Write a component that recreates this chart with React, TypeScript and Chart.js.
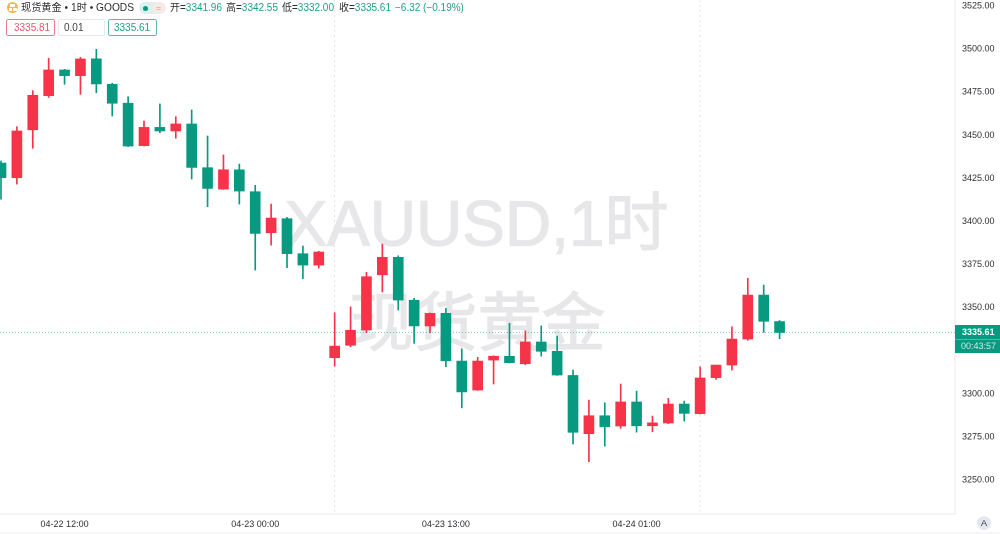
import React, { useEffect, useRef } from "react";
import { Chart, registerables } from "chart.js";

Chart.register(...registerables);

const openPrices = [3433.9,3425.4,3453.2,3473.0,3487.9,3484.6,3494.4,3479.6,3468.6,3444.0,3454.6,3452.5,3456.6,3431.2,3418.8,3430.0,3417.3,3393.5,3401.6,3381.3,3374.7,3321.0,3328.2,3337.0,3369.1,3379.2,3354.3,3339.4,3346.7,3319.0,3302.2,3319.6,3321.8,3317.5,3330.1,3324.7,3310.7,3276.9,3287.3,3281.3,3295.3,3281.5,3283.1,3294.1,3288.5,3309.4,3316.7,3331.8,3357.3,3341.96];
const highPrices = [3435.1,3455.0,3475.9,3494.7,3488.3,3495.2,3499.9,3480.2,3472.4,3458.3,3468.2,3460.8,3464.7,3449.6,3438.6,3433.3,3421.0,3410.1,3402.4,3385.8,3382.7,3347.1,3350.5,3370.5,3386.9,3380.1,3355.4,3346.9,3349.6,3326.2,3321.2,3322.1,3340.9,3336.6,3339.4,3333.5,3313.8,3296.4,3294.8,3305.7,3301.6,3287.1,3297.4,3295.8,3315.7,3316.7,3338.9,3367.0,3363.1,3342.55];
const lowPrices = [3412.9,3421.7,3442.5,3472.0,3479.6,3473.8,3474.7,3461.2,3443.4,3443.8,3451.5,3448.3,3424.6,3408.6,3418.6,3410.1,3371.8,3386.3,3373.2,3366.8,3373.0,3316.1,3327.3,3335.5,3359.1,3348.6,3329.3,3335.5,3315.7,3291.9,3302.0,3305.7,3317.9,3316.9,3321.9,3310.7,3270.9,3260.6,3269.7,3280.0,3277.8,3278.0,3282.7,3284.2,3288.3,3308.4,3313.8,3331.1,3335.7,3332.0];
const closePrices = [3425.4,3452.5,3473.2,3487.9,3484.6,3494.3,3479.8,3468.6,3443.8,3454.6,3452.5,3456.6,3431.4,3419.2,3430.0,3417.7,3393.1,3402.0,3381.3,3374.7,3382.3,3327.7,3336.9,3368.0,3379.2,3354.4,3339.4,3346.7,3319.2,3301.1,3319.0,3321.8,3318.1,3330.1,3324.7,3310.9,3277.7,3287.3,3280.9,3295.3,3281.5,3283.2,3294.1,3288.7,3309.2,3316.7,3331.8,3357.3,3342.1,3335.61];

const xTickIndexes = [4, 16, 21, 28, 40, 44];
const xTickLabels: Record<number, string> = { 4: "04-22 12:00", 16: "04-23 00:00", 28: "04-23 13:00", 40: "04-24 01:00" };
const sessionLines = [21, 44];
const priceTicks = [3250,3275,3300,3350,3375,3400,3425,3450,3475,3500,3525];
const lastPrice = 3335.61;
const countdown = "00:43:57";
const watermark = ["XAUUSD,1时", "现货黄金"];

const legendTitle = "现货黄金 • 1时 • GOODS";
const ohlcLabels = [
  { x: 170, label: "开", value: "3341.96" },
  { x: 226, label: "高", value: "3342.55" },
  { x: 282, label: "低", value: "3332.00" },
  { x: 339, label: "收", value: "3335.61" },
];
const changeText = "−6.32 (−0.19%)";
const tradeBoxes = [
  { x: 6, w: 49, text: "3335.81", color: "#e5566a", border: "#ea7b8b", pad: 8 },
  { x: 58, w: 47, text: "0.01", color: "#444", border: "#e8e8ea", pad: 6 },
  { x: 108, w: 49, text: "3335.61", color: "#1f9d8b", border: "#5fb8aa", pad: 6 },
];

const GREEN = "#089981";
const RED = "#f7334a";
const FONT = '"Liberation Sans", "Noto Sans CJK SC", sans-serif';

const colorFor = (i: number) => (closePrices[i] >= openPrices[i] ? RED : GREEN);

const overlayPlugin = {
  id: "overlay",
  beforeDatasetsDraw(chart: any) {
    const { ctx, chartArea, scales } = chart;
    ctx.save();
    ctx.fillStyle = "#e7e7e9";
    ctx.strokeStyle = "#e7e7e9";
    ctx.lineWidth = 1.2;
    ctx.textAlign = "center";
    ctx.textBaseline = "middle";
    ctx.font = `64px ${FONT}`;
    const cx = chartArea.left + (chartArea.right - chartArea.left) / 2;
    ctx.fillText(watermark[0], cx - 1, 228);
    ctx.strokeText(watermark[0], cx - 1, 228);
    ctx.fillText(watermark[1], cx, 328);
    ctx.strokeText(watermark[1], cx, 328);
    const y = Math.round(scales.y.getPixelForValue(lastPrice)) + 0.5;
    ctx.strokeStyle = "rgba(8,153,129,0.5)";
    ctx.lineWidth = 1;
    ctx.setLineDash([1, 2]);
    ctx.beginPath();
    ctx.moveTo(chartArea.left, y);
    ctx.lineTo(chartArea.right, y);
    ctx.stroke();
    ctx.restore();
  },
  afterDraw(chart: any) {
    const { ctx, chartArea, width, height, scales } = chart;
    ctx.save();
    ctx.fillStyle = "#f0f0f2";
    ctx.fillRect(0, height - 1.5, width, 1);
    const y = scales.y.getPixelForValue(lastPrice);
    const top = Math.round(y) - 7;
    const left = chartArea.right;
    ctx.fillStyle = GREEN;
    ctx.fillRect(left, top, width - left, 28);
    ctx.fillStyle = "rgba(255,255,255,0.3)";
    ctx.fillRect(left, top + 14, width - left, 1);
    ctx.textAlign = "left";
    ctx.textBaseline = "middle";
    ctx.font = `bold 9px ${FONT}`;
    ctx.fillStyle = "#ffffff";
    ctx.fillText(lastPrice.toFixed(2), left + 7, top + 7.5);
    ctx.font = `9px ${FONT}`;
    ctx.fillStyle = "#d5efe9";
    ctx.fillText(countdown, left + 6, top + 21.5);
    ctx.restore();
  },
};

export default function App() {
  const ref = useRef<HTMLCanvasElement | null>(null);
  useEffect(() => {
    if (!ref.current) return;
    const labels = closePrices.map((_, i) => i);
    const chart = new Chart(ref.current, {
      type: "bar",
      data: {
        datasets: [
          {
            label: "影线",
            data: labels.map((i) => ({ x: i, y: [lowPrices[i], highPrices[i]] })) as any,
            backgroundColor: labels.map(colorFor),
            barThickness: 1,
            grouped: false,
            order: 2,
          },
          {
            label: "实体",
            data: labels.map((i) => ({ x: i, y: [openPrices[i], closePrices[i]] })) as any,
            backgroundColor: labels.map(colorFor),
            barThickness: 10,
            grouped: false,
            order: 1,
          },
        ],
      },
      options: {
        responsive: false,
        animation: false,
        devicePixelRatio: 2,
        layout: { padding: 0 },
        plugins: { legend: { display: false }, tooltip: { enabled: false } },
        scales: {
          x: {
            type: "linear",
            min: -0.063,
            max: 60.04,
            offset: false,
            afterBuildTicks(axis: any) {
              axis.ticks = xTickIndexes.map((value) => ({ value }));
            },
            afterFit(axis: any) {
              axis.height = 20;
              axis.paddingLeft = 0;
              axis.paddingRight = 0;
            },
            ticks: {
              autoSkip: false,
              maxRotation: 0,
              padding: 5,
              color: "#2e2e33",
              font: { family: FONT, size: 9 },
              callback: (v: any) => xTickLabels[v] ?? "",
            },
            grid: {
              offset: false,
              drawTicks: false,
              color: (c: any) => (sessionLines.includes(c.tick?.value) ? "#e4e4e8" : "transparent"),
            },
            border: { display: true, color: "#e8e8ec", dash: [2, 3] },
          },
          y: {
            position: "right",
            min: 3230.3,
            max: 3528.5,
            afterBuildTicks(axis: any) {
              axis.ticks = priceTicks.map((value) => ({ value }));
            },
            afterFit(axis: any) {
              axis.width = 45;
              axis.paddingTop = 0;
              axis.paddingBottom = 0;
            },
            ticks: {
              padding: 7,
              color: "#2e2e33",
              font: { family: FONT, size: 9 },
              callback: (v: any) => Number(v).toFixed(2),
            },
            grid: { display: false, drawTicks: false },
            border: { display: true, color: "#e8e8ec" },
          },
        },
      },
      plugins: [overlayPlugin],
    } as any);
    return () => chart.destroy();
  }, []);

  const text: React.CSSProperties = {
    position: "absolute",
    fontFamily: FONT,
    fontSize: 10,
    lineHeight: "14px",
    whiteSpace: "nowrap",
  };

  return (
    <div style={{ position: "fixed", left: 0, top: 0, width: 1000, height: 534, background: "#fff", overflow: "hidden" }}>
      <canvas ref={ref} width={1000} height={534} style={{ display: "block", width: 1000, height: 534 }} />
      <div style={{ position: "absolute", left: 7, top: 2, width: 11, height: 11, borderRadius: "50%", background: "#f2b64c" }}>
        <div style={{ position: "absolute", left: 3, top: 2, width: 5, height: 3, background: "#fff" }} />
        <div style={{ position: "absolute", left: 1.5, top: 6, width: 3.5, height: 3, background: "#fff" }} />
        <div style={{ position: "absolute", left: 6, top: 6, width: 3.5, height: 3, background: "#fff" }} />
      </div>
      <span style={{ ...text, left: 21, top: 1, color: "#2e2e33", fontSize: 10.2 }}>{legendTitle}</span>
      <div style={{ position: "absolute", left: 139, top: 2, width: 14, height: 12, background: "#dcf1ec", borderRadius: "6px 0 0 6px" }}>
        <div style={{ position: "absolute", left: 4, top: 3.5, width: 5, height: 5, borderRadius: "50%", background: GREEN }} />
      </div>
      <div style={{ position: "absolute", left: 153, top: 2, width: 13, height: 12, background: "#f3ebe6", borderRadius: "0 6px 6px 0" }}>
        <span style={{ ...text, left: 3, top: -1, color: "#ee8a5a", fontSize: 9 }}>=</span>
      </div>
      {ohlcLabels.map((o) => (
        <span key={o.label} style={{ ...text, left: o.x, top: 1, color: "#2e2e33" }}>
          {o.label}=<span style={{ color: "#1f9d8b" }}>{o.value}</span>
        </span>
      ))}
      <span style={{ ...text, left: 395, top: 1, color: "#1f9d8b" }}>{changeText}</span>
      {tradeBoxes.map((b) => (
        <div
          key={b.x}
          style={{
            position: "absolute",
            left: b.x,
            top: 19,
            width: b.w,
            height: 17,
            boxSizing: "border-box",
            border: `1px solid ${b.border}`,
            borderRadius: 2,
            background: "#fff",
          }}
        >
          <span style={{ ...text, left: b.pad - 1, top: 0.5, color: b.color }}>{b.text}</span>
        </div>
      ))}
      <div
        style={{
          position: "absolute",
          left: 977,
          top: 516,
          width: 14,
          height: 14,
          borderRadius: "50%",
          background: "#e4e7ef",
          color: "#333",
          fontFamily: FONT,
          fontSize: 9,
          lineHeight: "14px",
          textAlign: "center",
        }}
      >
        A
      </div>
    </div>
  );
}
